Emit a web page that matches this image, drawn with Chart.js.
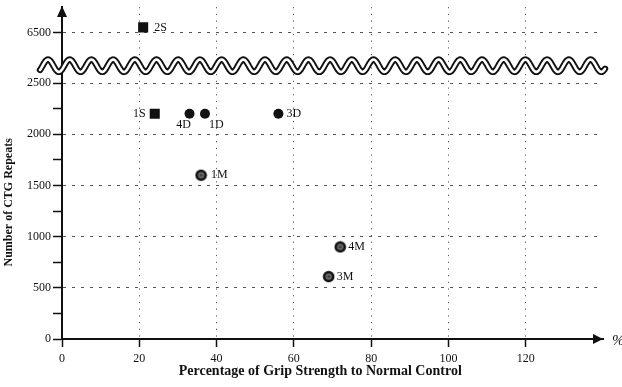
<!DOCTYPE html>
<html><head><meta charset="utf-8">
<script src="https://cdn.jsdelivr.net/npm/chart.js@4.4.1/dist/chart.umd.min.js"></script>
<style>html,body{margin:0;padding:0;background:#fff;}#wrap{width:622px;height:387px;}</style>
</head><body><div id="wrap"><canvas id="c" width="622" height="387"></canvas></div>
<script>
// ---- data ----
const xTickLabels = ['0', '20', '40', '60', '80', '100', '120'];
const yLowerTicks = [0, 500, 1000, 1500, 2000, 2500];
const yUpperTicks = [6500];
const sLabels = ['2S', '1S'];
const sGrip = [21, 24];
const sRepeats = [6550, 2200];
const dLabels = ['4D', '1D', '3D'];
const dGrip = [33, 37, 56];
const dRepeats = [2200, 2200, 2200];
const mLabels = ['1M', '4M', '3M'];
const mGrip = [36, 72, 69];
const mRepeats = [1600, 900, 610];
// axis break: lower segment ends, upper segment starts
const breakLow = 2670;
const breakHigh = 6175;
const upperMax = 6748;

// ---- style ----
const INK = '#111';
const SERIF = '"Liberation Serif", "Times New Roman", serif';
const labelOffsets = {
  '2S': [11, 0, 'left'], '1S': [-9, 0, 'right'],
  '4D': [-6, 11, 'center'], '1D': [4, 11, 'left'], '3D': [8, 0, 'left'],
  '1M': [10, 0, 'left'], '4M': [8, 0, 'left'], '3M': [8, 0, 'left']
};

function splitGroup(lbls, xs, ys) {
  const low = [], high = [];
  lbls.forEach((l, i) => (ys[i] > breakLow ? high : low).push({x: xs[i], y: ys[i], label: l}));
  return {low, high};
}

// M marker: black disc with grey textured centre
const mMarker = document.createElement('canvas');
mMarker.width = 13; mMarker.height = 13;
(function(){
  const c = mMarker.getContext('2d');
  c.fillStyle = INK; c.beginPath(); c.arc(6.5, 6.5, 5.8, 0, Math.PI * 2); c.fill();
  c.fillStyle = '#6a6a6a'; c.beginPath(); c.arc(6.5, 6.5, 3.2, 0, Math.PI * 2); c.fill();
  c.fillStyle = '#333'; c.beginPath(); c.arc(6.5, 6.5, 1.2, 0, Math.PI * 2); c.fill();
})();

const S = splitGroup(sLabels, sGrip, sRepeats);
const D = splitGroup(dLabels, dGrip, dRepeats);
const M = splitGroup(mLabels, mGrip, mRepeats);

const datasets = [];
function addSet(data, axis, style) {
  if (data.length) datasets.push(Object.assign({data, yAxisID: axis}, style));
}
const sStyle = {pointStyle: 'rect', pointRadius: 7.1, backgroundColor: INK, borderColor: INK, borderWidth: 0};
const dStyle = {pointStyle: 'circle', pointRadius: 5, backgroundColor: INK, borderColor: INK, borderWidth: 0};
const mStyle = {pointStyle: mMarker, pointRadius: 6, backgroundColor: INK, borderColor: INK};
addSet(S.low, 'y', sStyle); addSet(S.high, 'yTop', sStyle);
addSet(D.low, 'y', dStyle); addSet(D.high, 'yTop', dStyle);
addSet(M.low, 'y', mStyle); addSet(M.high, 'yTop', mStyle);

const tickFont = {family: SERIF, size: 12};
const noPad = s => { s.paddingTop = 0; s.paddingBottom = 0; s.paddingLeft = 0; s.paddingRight = 0; };

const decorPlugin = {
  id: 'decor',
  afterDatasetsDraw(chart) {
    const ctx = chart.ctx;
    ctx.save();
    ctx.font = '12px ' + SERIF;
    ctx.fillStyle = INK;
    ctx.textBaseline = 'middle';
    chart.data.datasets.forEach((ds, di) => {
      const meta = chart.getDatasetMeta(di);
      meta.data.forEach((el, i) => {
        const lbl = ds.data[i].label;
        const o = labelOffsets[lbl] || [9, 0, 'left'];
        ctx.textAlign = o[2];
        ctx.fillText(lbl, el.x + o[0], el.y + o[1]);
      });
    });
    ctx.restore();
  },
  afterDraw(chart) {
    const ctx = chart.ctx;
    const area = chart.chartArea;
    const ys = chart.scales.y;
    ctx.save();
    // wavy break band
    const cy = ys.top, P = 21.7, A = 6.2;
    ctx.beginPath();
    for (let x = 40; x <= 605; x += 0.5) {
      const y = cy - A * Math.cos(2 * Math.PI * (x - 48) / P);
      if (x === 40) ctx.moveTo(x, y); else ctx.lineTo(x, y);
    }
    ctx.lineJoin = 'round';
    ctx.lineCap = 'round';
    ctx.strokeStyle = INK; ctx.lineWidth = 6.4; ctx.stroke();
    ctx.strokeStyle = '#fff'; ctx.lineWidth = 2.6; ctx.stroke();
    // y-axis arrow
    ctx.fillStyle = INK;
    const ax = area.left;
    ctx.beginPath();
    ctx.moveTo(ax, area.top - 1); ctx.lineTo(ax - 5, area.top + 10); ctx.lineTo(ax + 5, area.top + 10);
    ctx.closePath(); ctx.fill();
    // x-axis arrow
    const ay = area.bottom;
    ctx.beginPath();
    ctx.moveTo(area.right, ay); ctx.lineTo(area.right - 10, ay - 5); ctx.lineTo(area.right - 10, ay + 5);
    ctx.closePath(); ctx.fill();
    // % sign
    ctx.font = 'italic 15px ' + SERIF;
    ctx.textAlign = 'left'; ctx.textBaseline = 'middle';
    ctx.fillText('%', area.right + 9, ay + 2);
    ctx.restore();
  }
};

new Chart(document.getElementById('c'), {
  type: 'scatter',
  data: {datasets},
  plugins: [decorPlugin],
  options: {
    responsive: false,
    devicePixelRatio: 1,
    animation: false,
    layout: {padding: {left: 0, right: 19, top: 5, bottom: 0}},
    plugins: {legend: {display: false}, tooltip: {enabled: false}},
    scales: {
      x: {
        type: 'linear', position: 'bottom', min: 0, max: 140,
        afterBuildTicks: s => { s.ticks = []; for (let v = 0; v <= 140; v += 20) s.ticks.push({value: v}); },
        ticks: {
          autoSkip: false, maxRotation: 0, padding: 5, color: INK, font: tickFont,
          callback: (v, i) => xTickLabels[i] !== undefined ? xTickLabels[i] : ''
        },
        grid: {
          color: c => (c.tick && (c.tick.value === 0 || c.tick.value === 140)) ? 'rgba(0,0,0,0)' : '#555',
          lineWidth: 1, tickLength: 8, tickWidth: 1.5,
          tickColor: c => (c.tick && c.tick.value === 140) ? 'rgba(0,0,0,0)' : INK
        },
        border: {display: true, color: INK, width: 2, dash: [1.2, 5.5]},
        title: {
          display: true, text: 'Percentage of Grip Strength to Normal Control' + '\u00A0'.repeat(7), color: INK,
          font: {family: SERIF, size: 14, weight: 'bold'}, padding: {top: 0, bottom: 7}
        },
        afterFit: s => { s.height = 48; noPad(s); }
      },
      y: {
        type: 'linear', position: 'left', stack: 'v', stackWeight: 275, weight: 0,
        min: 0, max: breakLow,
        afterBuildTicks: s => { s.ticks = []; for (let v = 0; v <= 2500; v += 250) s.ticks.push({value: v}); },
        ticks: {
          autoSkip: false, padding: 2, color: INK, font: tickFont,
          callback: v => yLowerTicks.includes(v) ? String(v) : ''
        },
        grid: {
          color: c => (c.tick && c.tick.value % 500 === 0 && c.tick.value !== 0) ? '#555' : 'rgba(0,0,0,0)',
          lineWidth: 1, tickLength: 9, tickWidth: 1.5, tickColor: INK
        },
        border: {display: true, color: INK, width: 2, dash: [3, 6]},
        title: {
          display: true, text: 'Number of CTG Repeats', color: INK,
          font: {family: SERIF, size: 12, weight: 'bold'}, padding: {top: 2, bottom: 0}
        },
        afterFit: s => { s.width = 62; noPad(s); }
      },
      yTop: {
        type: 'linear', position: 'left', stack: 'v', stackWeight: 59, weight: 1,
        min: breakHigh, max: upperMax,
        afterBuildTicks: s => { s.ticks = yUpperTicks.map(v => ({value: v})); },
        ticks: {autoSkip: false, padding: 2, color: INK, font: tickFont, callback: v => String(v)},
        grid: {color: '#555', lineWidth: 1, tickLength: 9, tickWidth: 1.5, tickColor: INK},
        border: {display: true, color: INK, width: 2, dash: [3, 6]},
        title: {display: false},
        afterFit: s => { s.width = 62; noPad(s); }
      }
    }
  }
});
</script>
</body></html>
